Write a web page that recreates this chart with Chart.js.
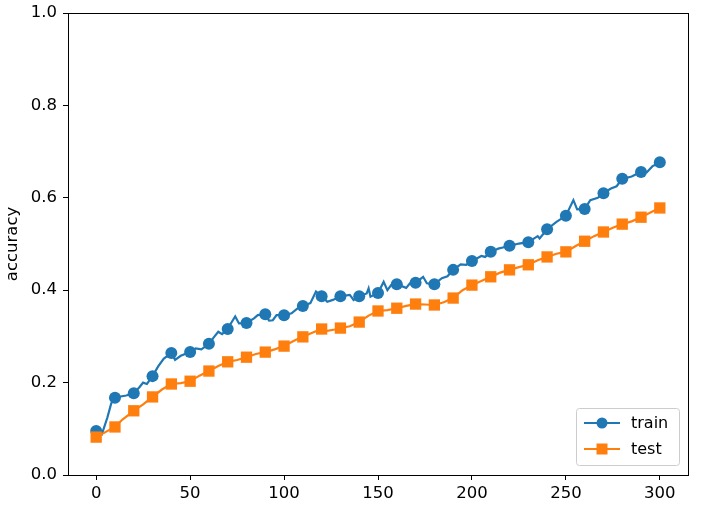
<!DOCTYPE html>
<html>
<head>
<meta charset="utf-8">
<script src="https://cdn.jsdelivr.net/npm/chart.js@4.4.0/dist/chart.umd.min.js"></script>
<style>
  html, body { margin: 0; padding: 0; background: #fff; }
  #wrap { width: 705px; height: 510px; }
</style>
</head>
<body>
<div id="wrap"><canvas id="accChart" width="705" height="510"></canvas></div>
<script>
var trainEpochs = [0, 3, 6, 8, 10, 13, 16, 20, 23, 25, 27, 30, 33, 36, 40, 42, 45, 50, 53, 56, 60, 63, 65, 67, 70, 72, 74, 76, 80, 84, 86, 90, 92, 94, 96, 100, 104, 107, 110, 114, 117, 120, 123, 126, 130, 135, 137, 140, 144, 145, 146, 150, 153, 155, 157, 160, 165, 167, 170, 174, 176, 180, 184, 187, 190, 194, 197, 200, 205, 207, 210, 214, 217, 220, 225, 230, 235, 236, 240, 245, 250, 254, 256, 260, 263, 267, 270, 274, 277, 280, 285, 290, 293, 296, 300];
var trainAcc = [0.095, 0.088, 0.125, 0.155, 0.167, 0.170, 0.172, 0.177, 0.190, 0.200, 0.197, 0.214, 0.235, 0.252, 0.264, 0.249, 0.258, 0.266, 0.274, 0.272, 0.284, 0.300, 0.310, 0.305, 0.316, 0.330, 0.343, 0.328, 0.329, 0.339, 0.346, 0.348, 0.334, 0.335, 0.346, 0.346, 0.350, 0.360, 0.366, 0.372, 0.397, 0.387, 0.375, 0.379, 0.387, 0.390, 0.379, 0.387, 0.393, 0.404, 0.386, 0.394, 0.418, 0.400, 0.411, 0.413, 0.405, 0.415, 0.416, 0.429, 0.415, 0.413, 0.426, 0.430, 0.444, 0.456, 0.455, 0.463, 0.474, 0.472, 0.483, 0.490, 0.493, 0.496, 0.501, 0.504, 0.517, 0.512, 0.532, 0.548, 0.561, 0.595, 0.575, 0.576, 0.595, 0.600, 0.610, 0.620, 0.625, 0.641, 0.646, 0.656, 0.655, 0.668, 0.677];

var testEpochs = [0, 10, 14, 20, 25, 30, 35, 40, 45, 50, 55, 60, 65, 70, 75, 80, 85, 90, 95, 100, 105, 110, 115, 120, 123, 127, 130, 135, 140, 145, 150, 155, 160, 165, 170, 175, 180, 185, 190, 195, 200, 205, 210, 215, 220, 225, 230, 235, 240, 245, 250, 255, 260, 265, 270, 275, 280, 285, 290, 295, 300];
var testAcc = [0.082, 0.104, 0.120, 0.139, 0.153, 0.169, 0.185, 0.197, 0.199, 0.203, 0.215, 0.225, 0.236, 0.245, 0.249, 0.255, 0.262, 0.266, 0.272, 0.279, 0.290, 0.299, 0.308, 0.316, 0.312, 0.315, 0.318, 0.322, 0.331, 0.345, 0.355, 0.357, 0.361, 0.366, 0.370, 0.369, 0.368, 0.374, 0.383, 0.400, 0.411, 0.420, 0.429, 0.438, 0.444, 0.450, 0.455, 0.465, 0.472, 0.479, 0.483, 0.495, 0.506, 0.517, 0.526, 0.535, 0.543, 0.549, 0.558, 0.568, 0.578];

var xTicks = [0, 50, 100, 150, 200, 250, 300];
var yTicks = [0.0, 0.2, 0.4, 0.6, 0.8, 1.0];

var FONT = 'DejaVu Sans';
var FS = 16.5;

function pts(xs, ys) {
  return xs.map(function (x, i) { return { x: x, y: ys[i] }; });
}

function markEvery(r) {
  return function (ctx) {
    var p = ctx.raw;
    return p && p.x % 10 === 0 ? r : 0;
  };
}

// axes frame + legend box drawn like matplotlib
var framePlugin = {
  id: 'frame',
  afterDatasetsDraw: function (chart) {
    var a = chart.chartArea, c = chart.ctx;
    c.save();
    c.strokeStyle = '#000';
    c.lineWidth = 1;
    c.strokeRect(a.left + 0.5, a.top + 0.5, a.right - a.left, a.bottom - a.top);

    // legend
    var bx = 576, by = 408, bw = 103, bh = 57;
    c.fillStyle = 'rgba(255,255,255,0.8)';
    c.strokeStyle = '#cccccc';
    c.beginPath();
    c.roundRect(bx + 0.5, by + 0.5, bw, bh, 3);
    c.fill();
    c.stroke();

    var items = [
      { label: 'train', color: '#1f77b4', shape: 'circle', y: by + 15 },
      { label: 'test', color: '#ff7f0e', shape: 'rect', y: by + 41 }
    ];
    items.forEach(function (it) {
      c.strokeStyle = it.color;
      c.lineWidth = 2;
      c.beginPath();
      c.moveTo(bx + 8, it.y);
      c.lineTo(bx + 44, it.y);
      c.stroke();
      c.fillStyle = it.color;
      if (it.shape === 'circle') {
        c.beginPath();
        c.arc(bx + 26, it.y, 5.5, 0, Math.PI * 2);
        c.fill();
      } else {
        c.fillRect(bx + 20.5, it.y - 5.5, 11, 11);
      }
      c.fillStyle = '#000';
      c.font = '16px "' + FONT + '"';
      c.textBaseline = 'middle';
      c.textAlign = 'left';
      c.fillText(it.label, bx + 55, it.y + 1);
    });
    c.restore();
  }
};

var ctx = document.getElementById('accChart').getContext('2d');
new Chart(ctx, {
  type: 'line',
  data: {
    datasets: [{
      label: 'train',
      data: pts(trainEpochs, trainAcc),
      borderColor: '#1f77b4',
      backgroundColor: '#1f77b4',
      borderWidth: 2.2,
      pointStyle: 'circle',
      pointRadius: markEvery(6),
      pointBorderWidth: 0,
      tension: 0,
      order: 1
    }, {
      label: 'test',
      data: pts(testEpochs, testAcc),
      borderColor: '#ff7f0e',
      backgroundColor: '#ff7f0e',
      borderWidth: 2.2,
      pointStyle: 'rect',
      pointRadius: markEvery(8),
      pointBorderWidth: 0,
      tension: 0,
      order: 0
    }]
  },
  options: {
    responsive: false,
    animation: false,
    events: [],
    layout: { padding: { top: 13, right: 17, left: 0, bottom: 0 } },
    plugins: {
      legend: { display: false },
      tooltip: { enabled: false }
    },
    scales: {
      x: {
        type: 'linear',
        min: -15,
        max: 315,
        afterBuildTicks: function (s) { s.ticks = xTicks.map(function (v) { return { value: v }; }); },
        afterFit: function (s) { s.height = 35; s.paddingLeft = 0; s.paddingRight = 0; },
        grid: { display: true, drawOnChartArea: false, drawTicks: true, tickLength: 5, color: '#000' },
        border: { display: true, color: '#000' },
        ticks: { color: '#000', padding: 4, maxRotation: 0, font: { family: FONT, size: FS } }
      },
      y: {
        min: 0,
        max: 1,
        afterBuildTicks: function (s) { s.ticks = yTicks.map(function (v) { return { value: v }; }); },
        afterFit: function (s) { s.width = 68; s.paddingTop = 0; s.paddingBottom = 0; },
        grid: { display: true, drawOnChartArea: false, drawTicks: true, tickLength: 5, color: '#000' },
        border: { display: true, color: '#000' },
        ticks: {
          color: '#000', padding: 6,
          font: { family: FONT, size: FS },
          callback: function (v) { return v.toFixed(1); }
        },
        title: {
          display: true,
          text: 'accuracy',
          color: '#000',
          padding: { top: 3, bottom: 0 },
          font: { family: FONT, size: FS }
        }
      }
    }
  },
  plugins: [framePlugin]
});
</script>
</body>
</html>
